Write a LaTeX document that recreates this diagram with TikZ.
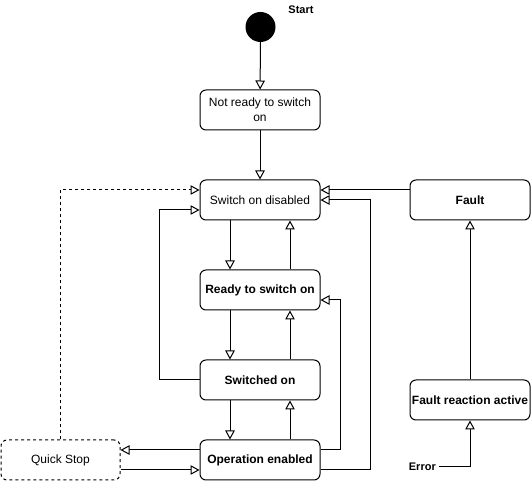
\documentclass[tikz,border=0pt]{standalone}
\usepackage{fontspec}
\setmainfont{Liberation Sans}
\usetikzlibrary{arrows.meta}
\begin{document}
\begin{tikzpicture}[x=1pt,y=-1pt,
  state/.style={draw, rounded corners=6pt, minimum width=120pt, minimum height=40pt,
    line width=1pt, align=center, inner sep=2pt, font=\fontsize{12}{15}\selectfont},
  bstate/.style={state, font=\fontsize{12}{15}\selectfont\bfseries},
  arr/.style={line width=1pt, -{Triangle[open, length=9pt, width=9.5pt]}},
  lbl/.style={inner sep=0pt, font=\fontsize{11}{13}\selectfont\bfseries}]
\useasboundingbox (0,0) rectangle (531,481);

\node[circle, fill=black, minimum size=30pt, inner sep=0pt] (start) at (260.5,27) {};
\node[lbl] (startlbl) at (301,10) {Start};

\node[state] (nr) at (260,110) {Not ready to switch\\on};
\node[state] (sod) at (260,200) {Switch on disabled};
\node[bstate] (rts) at (260,290) {Ready to switch on};
\node[bstate] (son) at (260,380) {Switched on};
\node[bstate] (oe) at (260,460) {Operation enabled};
\node[state, dash pattern=on 3pt off 3pt, minimum width=119pt] (qs) at (60.5,460) {Quick Stop};
\node[bstate] (fault) at (470,200) {Fault};
\node[bstate, inner sep=0pt] (fra) at (470,400) {Fault reaction active};
\node[lbl, anchor=east] (err) at (436,467) {Error};

\draw[arr] (start) -- (nr);
\draw[arr] (nr) -- (sod);
\draw[arr] ([xshift=-30pt]sod.south) -- ([xshift=-30pt]rts.north);
\draw[arr] ([xshift=30pt]rts.north) -- ([xshift=30pt]sod.south);
\draw[arr] ([xshift=-30pt]rts.south) -- ([xshift=-30pt]son.north);
\draw[arr] ([xshift=30pt]son.north) -- ([xshift=30pt]rts.south);
\draw[arr] ([xshift=-30pt]son.south) -- ([xshift=-30pt]oe.north);
\draw[arr] ([xshift=30pt]oe.north) -- ([xshift=30pt]son.south);
\draw[arr] (son.west) -- ++(-40,0) |- ([yshift=-10pt]sod.west);
\draw[arr, dash pattern=on 3pt off 3pt] (qs.north) |- ([yshift=10pt]sod.west);
\draw[arr] ([yshift=10pt]oe.west) -- ([yshift=10pt]qs.east);
\draw[arr] ([yshift=-10pt]qs.east) -- ([yshift=-10pt]oe.west);
\draw[arr] ([yshift=10pt]oe.east) -- ++(20,0) |- ([yshift=-10pt]rts.east);
\draw[arr] ([yshift=-10pt]oe.east) -- ++(50,0) |- (sod.east);
\draw[arr] ([yshift=10pt]fault.west) -- ([yshift=10pt]sod.east);
\draw[arr] (fra) -- (fault);
\draw[arr] ([xshift=3pt]err.east) -| (fra.south);
\end{tikzpicture}
\end{document}
